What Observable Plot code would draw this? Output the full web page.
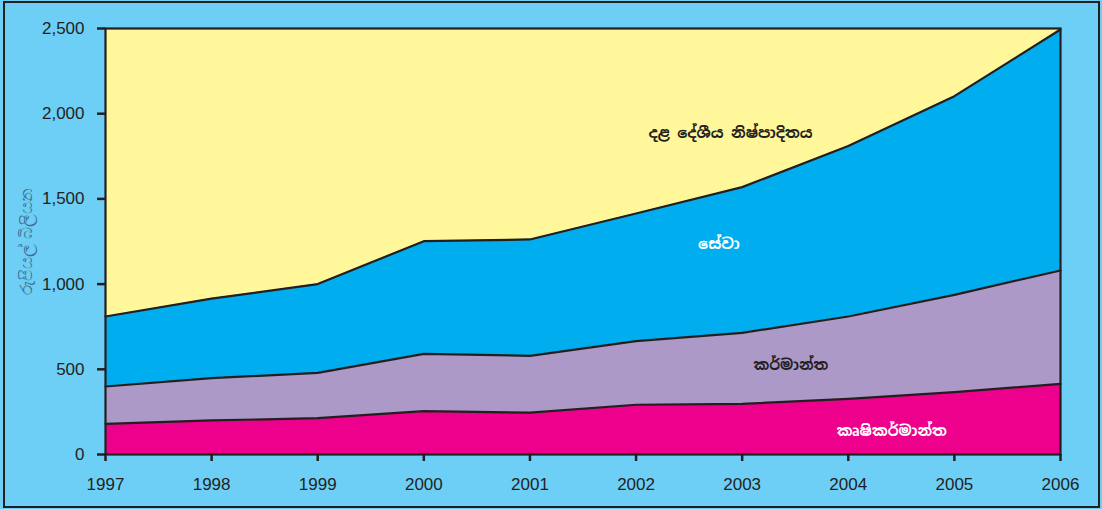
<!DOCTYPE html>
<html>
<head>
<meta charset="utf-8">
<script src="https://cdn.jsdelivr.net/npm/d3@7"></script>
<script src="https://cdn.jsdelivr.net/npm/@observablehq/plot@0.6"></script>
<style>
  html, body { margin: 0; padding: 0; background: #6dcff6; }
  #frame { position: absolute; left: 3px; top: 1px; width: 1097px; height: 507px; box-sizing: border-box; border: 2px solid #231f20; background: #6dcff6; }
  #chart { position: absolute; left: 0; top: 0; }
  #chart svg { overflow: visible; }
  g[aria-label="y-axis label"] text { fill: #3e6d8e; }
</style>
</head>
<body>
<div id="frame"></div>
<div id="chart"></div>
<script>
const years = [1997, 1998, 1999, 2000, 2001, 2002, 2003, 2004, 2005, 2006];
const agriculture = [180, 200, 213, 254, 246, 292, 297, 327, 366, 415];
const industry    = [219, 248, 266, 337, 333, 373, 417, 483, 571, 665];
const services    = [411, 467, 521, 661, 683, 749, 855, 1000, 1166, 1414];
const sectorNames = ["කෘෂිකර්මාන්ත", "කර්මාන්ත", "සේවා"];
const sectorColors = ["#ec008c", "#ad99c8", "#00aeef"];
const yTicks = [0, 500, 1000, 1500, 2000, 2500];
const yLabel = "රුපියල් බිලියන";
const gdpLabel = "දළ දේශීය නිෂ්පාදිතය";

// annotation positions (year, value) for the series labels
const labels = [
  {text: gdpLabel, year: 2002.89, value: 1884, color: "#231f20"},
  {text: sectorNames[2], year: 2002.78, value: 1232, color: "#ffffff"},
  {text: sectorNames[1], year: 2003.46, value: 522, color: "#231f20"},
  {text: sectorNames[0], year: 2004.41, value: 137, color: "#ffffff"}
];

const seriesValues = [agriculture, industry, services];
const data = [];
sectorNames.forEach((name, i) => {
  years.forEach((yr, j) => data.push({year: yr, sector: name, value: seriesValues[i][j], order: i}));
});

const font = "'Noto Sans Sinhala', 'Liberation Sans', Arial, sans-serif";

const chart = Plot.plot({
  width: 1102,
  height: 509,
  marginLeft: 105,
  marginRight: 42,
  marginTop: 28,
  marginBottom: 55,
  style: {background: "transparent", fontFamily: "'Liberation Sans', Arial, sans-serif", fontSize: "17px", color: "#231f20"},
  x: {type: "linear", domain: [1997, 2006]},
  y: {domain: [0, 2500]},
  color: {domain: sectorNames, range: sectorColors},
  marks: [
    Plot.frame({fill: "#fff799"}),
    Plot.areaY(data, {x: "year", y: "value", z: "sector", fill: "sector", order: sectorNames, fillOpacity: 1}),
    Plot.lineY(data, Plot.stackY2({x: "year", y: "value", z: "sector", order: sectorNames, stroke: "#231f20", strokeWidth: 2.2})),
    Plot.frame({stroke: "#231f20", strokeWidth: 2.2}),
    Plot.axisY({ticks: yTicks, tickFormat: d3.format(","), tickSize: 8, tickPadding: 13, strokeWidth: 2.5,
      label: yLabel, labelAnchor: "center", labelOffset: 86, labelArrow: "none", fontSize: 17}),
    Plot.axisX({ticks: years, tickFormat: d => String(d), tickSize: 7, tickPadding: 16, strokeWidth: 2.5, label: null, fontSize: 17}),
    Plot.text(labels, {x: "year", y: "value", text: "text", fill: "color", fontWeight: "bold", fontSize: 15, fontFamily: font})
  ]
});
document.getElementById("chart").appendChild(chart);
</script>
</body>
</html>
